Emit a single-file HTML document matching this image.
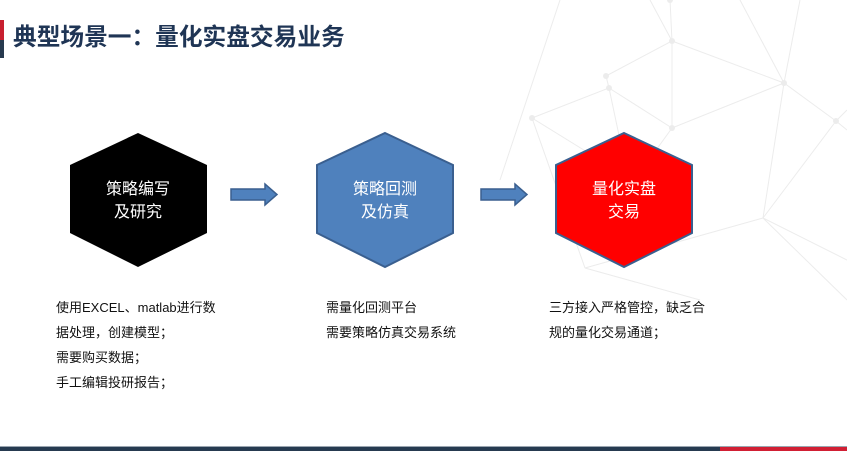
<!DOCTYPE html>
<html><head><meta charset="utf-8"><style>
body{margin:0;width:847px;height:451px;overflow:hidden;background:#fff;position:relative;font-family:"Liberation Sans","Noto Sans CJK SC",sans-serif}
.t{position:absolute;left:13px;top:22px;font-size:23.7px;font-weight:bold;color:#1f3555;line-height:32px}
.p{position:absolute;font-size:13px;line-height:25px;color:#111}
.h{position:absolute;color:#fff;font-size:16px;line-height:23px;text-align:center;width:140px}
</style></head><body>
<svg width="847" height="451" style="position:absolute;left:0;top:0">
<g stroke="#ececec" stroke-width="1" fill="none">
<path d="M670 0 L672 41 L606 76 M672 41 L784 83 L836 121 M672 41 L672 128 M606 76 L609 88 L532 118 M609 88 L672 128 L784 83 M609 88 L620 140 M532 118 L585 268 M532 118 L600 160 M672 128 L620 200 M836 121 L763 218 L585 268 M784 83 L763 218 L847 260 M836 121 L847 110 M763 218 L847 300 M650 0 L672 41 M560 0 L500 180 M740 0 L784 83 M800 0 L784 83 M836 121 L847 130 M585 268 L700 300"/>
</g>
<g fill="#ececec"><circle cx="672" cy="41" r="3"/><circle cx="606" cy="76" r="3"/><circle cx="609" cy="88" r="3"/><circle cx="532" cy="118" r="3"/><circle cx="672" cy="128" r="3"/><circle cx="784" cy="83" r="3"/><circle cx="836" cy="121" r="3"/><circle cx="670" cy="0" r="3"/></g>
<rect x="0" y="20" width="4" height="20" fill="#c8202f"/>
<rect x="0" y="40" width="4" height="18" fill="#273a4f"/>
<rect x="0" y="446" width="720" height="5" fill="#263a50"/>
<rect x="720" y="446" width="127" height="5" fill="#d11f34"/>
<rect x="0" y="446" width="847" height="1" fill="#9aa5b0"/>
<polygon points="138,133 207,165 207,233 138,267 70,233 70,165" fill="#000"/>
<polygon points="385,133 453,165 453,233 385,267 317,233 317,165" fill="#4f81bd" stroke="#3a5f8f" stroke-width="2"/>
<polygon points="624,133 692,165 692,233 624,267 556,233 556,165" fill="#ff0000" stroke="#3a5f8f" stroke-width="2"/>
<polygon points="231,189 265,189 265,184 277,194.5 265,205 265,200 231,200" fill="#4f81bd" stroke="#3a5f8f" stroke-width="1.5"/>
<polygon points="481,189 515,189 515,184 527,194.5 515,205 515,200 481,200" fill="#4f81bd" stroke="#3a5f8f" stroke-width="1.5"/>
</svg>
<div class="t">典型场景一：量化实盘交易业务</div>
<div class="h" style="left:68px;top:178px">策略编写<br>及研究</div>
<div class="h" style="left:315px;top:178px">策略回测<br>及仿真</div>
<div class="h" style="left:554px;top:178px">量化实盘<br>交易</div>
<div class="p" style="left:56px;top:295px">使用EXCEL、matlab进行数<br>据处理，创建模型；<br>需要购买数据；<br>手工编辑投研报告；</div>
<div class="p" style="left:326px;top:295px">需量化回测平台<br>需要策略仿真交易系统</div>
<div class="p" style="left:549px;top:295px">三方接入严格管控，缺乏合<br>规的量化交易通道；</div>
</body></html>
